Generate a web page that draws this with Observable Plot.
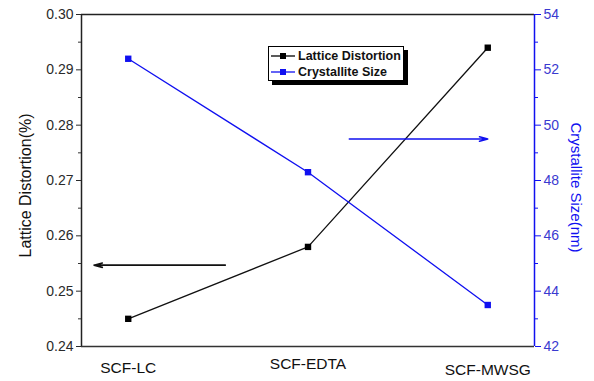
<!DOCTYPE html>
<html><head><meta charset="utf-8">
<script src="https://cdn.jsdelivr.net/npm/d3@7"></script>
<script src="https://cdn.jsdelivr.net/npm/@observablehq/plot@0.6"></script>
<style>
body{margin:0;background:#fff;font-family:"Liberation Sans",Arial,sans-serif}
#wrap{position:relative;width:594px;height:381px}
#legend{position:absolute;left:268px;top:46px;width:134px;height:33px;border:1px solid #000;background:#fff;box-shadow:4px 4px 0 #000;font:bold 12.5px "Liberation Sans",Arial,sans-serif;color:#111}
#legend .row{position:absolute;left:2px;height:16px;display:flex;align-items:center;white-space:nowrap}
#legend svg{margin-right:3px}
</style></head><body><div id="wrap"><div id="legend"></div></div>
<script>
const categories = ["SCF-LC", "SCF-EDTA", "SCF-MWSG"];
const latticeDistortion = [0.245, 0.258, 0.294];
const crystalliteSize = [52.4, 48.3, 43.5];
const leftTicks = [0.24, 0.25, 0.26, 0.27, 0.28, 0.29, 0.30];
const leftMinor = [0.245, 0.255, 0.265, 0.275, 0.285, 0.295];
const rightTicks = [42, 44, 46, 48, 50, 52, 54];
const rightMinor = [43, 45, 47, 49, 51, 53];
// annotation arrows (x in category index units, y in own axis units)
const blackArrowX = [0.54, -0.19], blackArrowY = 0.2547;
const blueArrowX = [1.23, 2.0], blueArrowY = 49.5;
const seriesNames = ["Lattice Distortion", "Crystallite Size"];

const BLUE = "#1010f0";
const toLeft = v => 0.24 + (v - 42) * 0.005;
const fromLeft = d => Math.round((d - 0.24) / 0.005 + 42);

const idx = categories.map((_, i) => i);
const black = idx.map(i => ({x: i, y: latticeDistortion[i]}));
const blue = idx.map(i => ({x: i, y: toLeft(crystalliteSize[i])}));
const labelDy = [22, 18, 24];

const chart = Plot.plot({
  width: 594, height: 381,
  marginLeft: 81, marginRight: 60, marginTop: 14, marginBottom: 35,
  style: {fontFamily: '"Liberation Sans", Arial, sans-serif', background: "#fff"},
  x: {type: "linear", domain: [-0.26, 2.26], axis: null},
  y: {domain: [0.24, 0.30], axis: null},
  marks: [
    Plot.ruleY([0.30], {stroke: "#222", strokeWidth: 1.5}),
    Plot.ruleY([0.24], {stroke: "#333", strokeWidth: 1.5}),
    Plot.ruleX([-0.26], {stroke: "#222", strokeWidth: 1.5}),
    Plot.ruleX([2.26], {stroke: BLUE, strokeWidth: 1.5}),
    Plot.axisY({anchor: "left", ticks: leftTicks, tickSize: 5, tickPadding: 3, tickFormat: d3.format(".2f"), fontSize: 14, color: "#2a2a2a", label: null}),
    Plot.axisY({anchor: "left", ticks: leftMinor, tickSize: 3, tickFormat: () => "", label: null, color: "#333"}),
    Plot.axisY({anchor: "right", ticks: rightTicks.map(toLeft), tickSize: 6, tickPadding: 3, tickFormat: fromLeft, fontSize: 14, color: "#3a3ad0", stroke: BLUE, label: null}),
    Plot.axisY({anchor: "right", ticks: rightMinor.map(toLeft), tickSize: 3, tickFormat: () => "", stroke: BLUE, label: null}),
    Plot.text(idx, {x: i => i, frameAnchor: "bottom", text: i => categories[i], fontSize: 15.5, fill: "#111", lineAnchor: "middle", textAnchor: "middle"}),
    Plot.line(black, {x: "x", y: "y", stroke: "#111", strokeWidth: 1.3}),
    Plot.dot(black, {x: "x", y: "y", symbol: "square", r: 3.6, fill: "#000"}),
    Plot.line(blue, {x: "x", y: "y", stroke: BLUE, strokeWidth: 1.3}),
    Plot.dot(blue, {x: "x", y: "y", symbol: "square", r: 3.6, fill: BLUE}),
    Plot.arrow([0], {x1: blackArrowX[0], x2: blackArrowX[1], y1: blackArrowY, y2: blackArrowY, stroke: "#111", strokeWidth: 1.6, headLength: 8, headAngle: 30}),
    Plot.arrow([0], {x1: blueArrowX[0], x2: blueArrowX[1], y1: toLeft(blueArrowY), y2: toLeft(blueArrowY), stroke: BLUE, strokeWidth: 1.6, headLength: 8, headAngle: 30}),
    Plot.text(["Lattice Distortion(%)"], {frameAnchor: "left", textAnchor: "middle", dx: -56, dy: 5, rotate: -90, fontSize: 16, fill: "#111"}),
    Plot.text(["Crystallite Size(nm)"], {frameAnchor: "right", textAnchor: "middle", dx: 41, dy: 7, rotate: 90, fontSize: 15, fill: BLUE})
  ]
});
// stagger category labels vertically as in the reference
d3.select(chart).selectAll("g[aria-label=text]").filter((d, j) => j === 0).selectAll("text")
  .attr("dy", (d, j) => labelDy[j]);
document.getElementById("wrap").prepend(chart);

const lg = document.getElementById("legend");
[["#000", 0], [BLUE, 1]].forEach(([c, i]) => {
  const row = document.createElement("div");
  row.className = "row";
  row.style.top = (1 + i * 16) + "px";
  row.innerHTML = `<svg width="24" height="10"><line x1="0" x2="24" y1="5" y2="5" stroke="${c}" stroke-width="1.3"/><rect x="9" y="2" width="6" height="6" fill="${c}"/></svg><span>${seriesNames[i]}</span>`;
  lg.appendChild(row);
});
</script>
</body></html>
